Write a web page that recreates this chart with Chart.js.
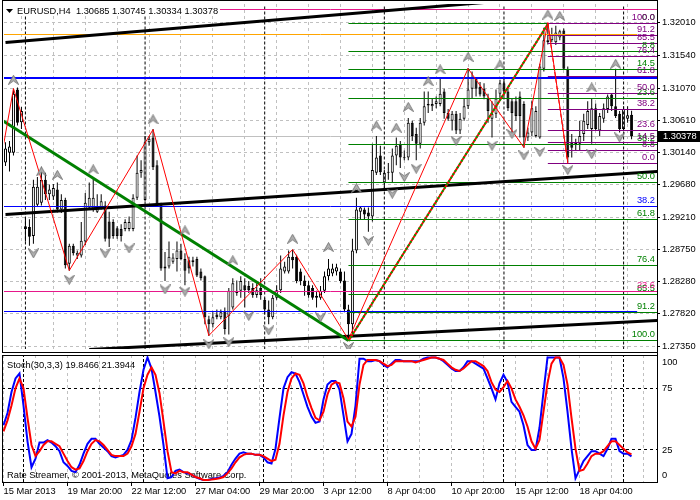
<!DOCTYPE html>
<html>
<head>
<meta charset="utf-8">
<script src="https://cdn.jsdelivr.net/npm/chart.js@4.4.1/dist/chart.umd.min.js"></script>
<style>
  html, body { margin: 0; padding: 0; background: #fff; }
  #wrap { position: relative; width: 700px; height: 500px; overflow: hidden; background: #fff; }
  #mainChart { position: absolute; left: 0; top: 0; }
  #stochChart { position: absolute; left: 0; top: 353px; }
</style>
</head>
<body>
<div id="wrap">
  <canvas id="mainChart" width="700" height="353"></canvas>
  <canvas id="stochChart" width="700" height="147"></canvas>
</div>
<script>
// EURUSD H4, 15 Mar 04:00 .. 19 Apr 08:00 (bar 0 .. 157)
const open = [
  1.3000, 1.3014, 1.3014, 1.3105, 1.3058, 1.2908, 1.2907, 1.2894, 1.2939, 1.2942,
  1.2975, 1.2954, 1.2951, 1.2961, 1.2932, 1.2946, 1.2854, 1.2880, 1.2866, 1.2866,
  1.2886, 1.2935, 1.2932, 1.2929, 1.2935, 1.2938, 1.2915, 1.2914, 1.2905, 1.2904,
  1.2904, 1.2904, 1.2904, 1.2949, 1.2985, 1.2946, 1.3029, 1.3036, 1.2996, 1.2939,
  1.2847, 1.2850, 1.2857, 1.2861, 1.2873, 1.2861, 1.2859, 1.2856, 1.2861, 1.2843,
  1.2836, 1.2774, 1.2767, 1.2781, 1.2777, 1.2786, 1.2779, 1.2791, 1.2812, 1.2815,
  1.2823, 1.2822, 1.2819, 1.2809, 1.2819, 1.2802, 1.2788, 1.2777, 1.2805, 1.2816,
  1.2843, 1.2843, 1.2864, 1.2864, 1.2843, 1.2830, 1.2823, 1.2819, 1.2808, 1.2805,
  1.2815, 1.2836, 1.2840, 1.2843, 1.2843, 1.2830, 1.2788, 1.2767, 1.2873, 1.2929,
  1.2932, 1.2928, 1.2922, 1.2985, 1.3010, 1.2971, 1.2985, 1.2985, 1.3010, 1.3026,
  1.3007, 1.3007, 1.3057, 1.3041, 1.3027, 1.3057, 1.3082, 1.3081, 1.3084, 1.3084,
  1.3102, 1.3071, 1.3060, 1.3070, 1.3046, 1.3063, 1.3081, 1.3106, 1.3121, 1.3109,
  1.3106, 1.3092, 1.3063, 1.3070, 1.3099, 1.3114, 1.3102, 1.3088, 1.3088, 1.3095,
  1.3084, 1.3036, 1.3043, 1.3038, 1.3036, 1.3135, 1.3173, 1.3176, 1.3173, 1.3180,
  1.3190, 1.3135, 1.3029, 1.3029, 1.3027, 1.3041, 1.3054, 1.3048, 1.3078, 1.3046,
  1.3063, 1.3077, 1.3098, 1.3081, 1.3070, 1.3048, 1.3063, 1.30685
];
const high = [
  1.3029, 1.3031, 1.3106, 1.3108, 1.3080, 1.2921, 1.2918, 1.2975, 1.2979, 1.2993,
  1.2985, 1.2968, 1.2969, 1.2971, 1.2954, 1.2949, 1.2883, 1.2883, 1.2873, 1.2914,
  1.2956, 1.2971, 1.2979, 1.2954, 1.2954, 1.2944, 1.2929, 1.2918, 1.2908, 1.2911,
  1.2918, 1.2922, 1.2954, 1.3010, 1.3003, 1.3038, 1.3038, 1.3048, 1.3003, 1.2942,
  1.2871, 1.2886, 1.2869, 1.2886, 1.2883, 1.2869, 1.2864, 1.2864, 1.2864, 1.2847,
  1.2837, 1.2779, 1.2784, 1.2788, 1.2788, 1.2791, 1.2819, 1.2833, 1.2830, 1.2836,
  1.2833, 1.2829, 1.2826, 1.2826, 1.2833, 1.2805, 1.2801, 1.2809, 1.2823, 1.2866,
  1.2857, 1.2873, 1.2874, 1.2867, 1.2847, 1.2837, 1.2829, 1.2823, 1.2815, 1.2822,
  1.2843, 1.2861, 1.2854, 1.2854, 1.2847, 1.2843, 1.2795, 1.2890, 1.2949, 1.2937,
  1.2935, 1.2935, 1.3027, 1.3038, 1.3024, 1.2989, 1.2999, 1.3020, 1.3036, 1.3031,
  1.3017, 1.3064, 1.3060, 1.3050, 1.3064, 1.3102, 1.3102, 1.3092, 1.3095, 1.3121,
  1.3106, 1.3077, 1.3074, 1.3074, 1.3071, 1.3092, 1.3136, 1.3131, 1.3123, 1.3116,
  1.3114, 1.3099, 1.3088, 1.3105, 1.3119, 1.3123, 1.3106, 1.3092, 1.3095, 1.3102,
  1.3088, 1.3050, 1.3088, 1.3081, 1.3142, 1.3194, 1.3201, 1.3194, 1.3197, 1.3191,
  1.3193, 1.3138, 1.3041, 1.3034, 1.3060, 1.3070, 1.3088, 1.3092, 1.3085, 1.3071,
  1.3085, 1.3098, 1.3099, 1.3135, 1.3074, 1.3081, 1.3081, 1.30745
];
const low = [
  1.2995, 1.2987, 1.3010, 1.3053, 1.3048, 1.2886, 1.2880, 1.2883, 1.2937, 1.2938,
  1.2946, 1.2946, 1.2946, 1.2928, 1.2927, 1.2847, 1.2844, 1.2866, 1.2861, 1.2863,
  1.2881, 1.2932, 1.2929, 1.2927, 1.2932, 1.2886, 1.2878, 1.2890, 1.2890, 1.2886,
  1.2901, 1.2901, 1.2901, 1.2946, 1.2978, 1.2944, 1.3024, 1.2989, 1.2937, 1.2844,
  1.2829, 1.2847, 1.2854, 1.2843, 1.2859, 1.2823, 1.2840, 1.2850, 1.2835, 1.2830,
  1.2767, 1.2750, 1.2762, 1.2774, 1.2774, 1.2752, 1.2752, 1.2788, 1.2808, 1.2805,
  1.2791, 1.2812, 1.2805, 1.2805, 1.2802, 1.2781, 1.2767, 1.2774, 1.2802, 1.2812,
  1.2840, 1.2840, 1.2847, 1.2826, 1.2823, 1.2808, 1.2805, 1.2802, 1.2791, 1.2802,
  1.2812, 1.2830, 1.2836, 1.2837, 1.2826, 1.2784, 1.2745, 1.2751, 1.2869, 1.2918,
  1.2918, 1.2900, 1.2915, 1.2982, 1.2982, 1.2963, 1.2975, 1.2971, 1.2996, 1.2992,
  1.3003, 1.3003, 1.3031, 1.3003, 1.3020, 1.3053, 1.3071, 1.3074, 1.3078, 1.3081,
  1.3063, 1.3060, 1.3046, 1.3041, 1.3041, 1.3060, 1.3077, 1.3092, 1.3095, 1.3095,
  1.3091, 1.3057, 1.3036, 1.3064, 1.3092, 1.3095, 1.3074, 1.3043, 1.3060, 1.3036,
  1.3021, 1.3031, 1.3038, 1.3036, 1.3034, 1.3131, 1.3170, 1.3173, 1.3169, 1.3176,
  1.3133, 1.3000, 1.3007, 1.3017, 1.3017, 1.3031, 1.3048, 1.3027, 1.3046, 1.3038,
  1.3057, 1.3071, 1.3074, 1.3064, 1.3043, 1.3046, 1.3057, 1.30334
];
const close = [
  1.3020, 1.3023, 1.3099, 1.3057, 1.3074, 1.2904, 1.2893, 1.2965, 1.2965, 1.2975,
  1.2954, 1.2961, 1.2963, 1.2932, 1.2946, 1.2852, 1.2880, 1.2869, 1.2870, 1.2887,
  1.2942, 1.2949, 1.2949, 1.2937, 1.2944, 1.2890, 1.2890, 1.2894, 1.2894, 1.2894,
  1.2914, 1.2914, 1.2949, 1.2985, 1.2989, 1.3029, 1.3034, 1.2993, 1.2939, 1.2847,
  1.2850, 1.2864, 1.2863, 1.2873, 1.2861, 1.2844, 1.2847, 1.2859, 1.2837, 1.2833,
  1.2777, 1.2767, 1.2777, 1.2777, 1.2784, 1.2760, 1.2815, 1.2826, 1.2815, 1.2829,
  1.2816, 1.2816, 1.2809, 1.2816, 1.2809, 1.2788, 1.2777, 1.2805, 1.2816, 1.2847,
  1.2850, 1.2864, 1.2859, 1.2829, 1.2829, 1.2822, 1.2809, 1.2805, 1.2805, 1.2815,
  1.2836, 1.2847, 1.2847, 1.2849, 1.2829, 1.2788, 1.2767, 1.2873, 1.2932, 1.2935,
  1.2925, 1.2922, 1.2989, 1.3007, 1.2986, 1.2985, 1.2986, 1.3010, 1.3024, 1.3007,
  1.3006, 1.3057, 1.3038, 1.3027, 1.3057, 1.3081, 1.3084, 1.3084, 1.3088, 1.3099,
  1.3071, 1.3063, 1.3070, 1.3046, 1.3063, 1.3081, 1.3105, 1.3122, 1.3106, 1.3098,
  1.3095, 1.3074, 1.3070, 1.3092, 1.3114, 1.3102, 1.3078, 1.3071, 1.3067, 1.3067,
  1.3036, 1.3043, 1.3078, 1.3074, 1.3138, 1.3176, 1.3176, 1.3184, 1.3187, 1.3189,
  1.3135, 1.3007, 1.3021, 1.3026, 1.3038, 1.3060, 1.3074, 1.3078, 1.3048, 1.3067,
  1.3078, 1.3095, 1.3081, 1.3067, 1.3048, 1.3077, 1.3068, 1.30378
];

// Stochastic(30,3,3): main (%K) and signal (%D)
const stochK = [
  45, 55, 72, 83, 87, 61, 32, 11, 18, 31,
  31, 33, 31, 28, 24, 15, 12, 8, 7, 13,
  22, 30, 34, 34, 30, 27, 24, 20, 19, 20,
  21, 25, 33, 51, 72, 90, 100, 91, 72, 52,
  29, 2, 3, 8, 9, 7, 6, 5, 3, 1.5,
  0.7, 0.7, 1.5, 2, 2.6, 4, 7, 13, 18, 22,
  23, 22, 22, 21, 21, 19, 15, 14, 26, 51,
  75, 84, 88, 87, 80, 70, 60, 52, 47, 48,
  66, 78, 81, 81, 74, 53, 32, 38, 61, 99,
  99, 97, 97, 98, 97, 94, 92, 95, 98, 98,
  97, 97, 97, 97, 97, 99, 100, 100, 100, 99,
  97, 94, 91, 89, 89, 92, 97, 97, 95, 93,
  91, 83, 75, 66, 79, 86, 80, 64, 60, 56,
  45, 29, 25, 25, 43, 72, 100, 100, 100, 100,
  83, 56, 26, 2, 9, 16, 20, 24, 24, 22,
  20, 26, 34, 34, 24, 22, 22, 19.8466
];
const stochD = [
  40, 49, 61, 75, 83, 75, 51, 29, 20, 24,
  29, 32, 32, 30, 28, 22, 16, 11, 9, 10,
  16, 24, 30, 33, 32, 29, 25, 21, 20, 20,
  20, 22, 28, 38, 56, 75, 86, 92, 86, 71,
  48, 24, 7, 6, 8, 7, 7, 5, 3, 2,
  0.7, 0.7, 1, 1.5, 2, 3, 6, 10, 15, 19,
  21, 22, 22, 21, 21, 20, 18, 16, 17, 30,
  53, 72, 83, 87, 86, 79, 68, 59, 51, 49,
  56, 70, 78, 80, 79, 67, 48, 44, 52, 78,
  94, 98, 98, 98, 97, 95, 93, 94, 97, 97,
  97, 97, 97, 96, 97, 98, 99, 100, 100, 99,
  98, 95, 92, 90, 89, 91, 94, 97, 97, 95,
  93, 89, 80, 74, 72, 76, 81, 75, 66, 60,
  53, 44, 32, 26, 33, 56, 79, 95, 100, 100,
  94, 78, 51, 26, 8, 9, 14, 20, 22, 22,
  24, 28, 32, 32, 29, 26, 23, 21.3944
];

const priceTicks = [1.2735, 1.2782, 1.2828, 1.2875, 1.2921, 1.2968, 1.3014, 1.3061, 1.3107, 1.3154, 1.3201];
const timeLabels = ['15 Mar 2013', '19 Mar 20:00', '22 Mar 12:00', '27 Mar 04:00', '29 Mar 20:00',
                    '3 Apr 12:00', '8 Apr 04:00', '10 Apr 20:00', '15 Apr 12:00', '18 Apr 04:00'];
const labelBars = [0, 16, 32, 48, 64, 80, 96, 112, 128, 144];
const gridBars = [0, 8, 16, 24, 32, 40, 48, 56, 64, 72, 80, 88, 96, 104, 112, 120, 128, 136, 144, 152, 160];
const weekStarts = [5, 35, 65, 95, 125, 155];
const stochLevels = [0, 25, 75, 100];

// drawn objects
const zigzagBars = [-1, 2, 16, 37, 51, 72, 86, 116, 130, 136, 141];
const zigzagPrices = [1.3008, 1.3106, 1.2844, 1.3048, 1.2750, 1.2874, 1.2745, 1.3136, 1.3021, 1.3201, 1.3000];
const upperChannel = [[0, 1.3173], [120, 1.3231]];
const middleChannel = [[0, 1.2925], [163.4, 1.2987]];
const lowerChannel = [[21, 1.2730], [163.4, 1.2772]];
const greenTrend = [[-0.75, 1.3060], [86, 1.2744]];
const fiboLevels = [0, 8.8, 14.5, 23.6, 38.2, 50, 61.8, 76.4, 85.5, 91.2, 100];
const greenFiboBars = [86, 136];        // low bar, high bar
const greenFiboPrices = [1.2743, 1.3200];
const purpleFiboBars = [136, 141];      // high bar, low bar
const purpleFiboPrices = [1.3200, 1.2999];
const pinkLevels = [1.3220, 1.2814];
const orangeLevels = [1.3184];
const blueWideLevels = [1.3122];
const blueLevels = [1.2936];
const blueShortLevels = [1.2785];

const fractalUpBars = [2, 9, 13, 22, 37, 45, 57, 72, 81, 88, 93, 98, 101, 106, 109, 116, 124, 136, 139, 147, 153];
const fractalUpPrices = [1.3119, 1.2987, 1.2982, 1.2990, 1.3062, 1.2902, 1.2859, 1.2890, 1.2878, 1.2963, 1.3053,
                         1.3050, 1.3080, 1.3117, 1.3134, 1.3152, 1.3141, 1.3213, 1.3211, 1.3108, 1.3142];
const fractalDownBars = [7, 16, 25, 31, 40, 45, 51, 56, 61, 66, 79, 86, 91, 97, 100, 103, 113, 122, 127, 130, 134, 141, 147, 154];
const fractalDownPrices = [1.2869, 1.2831, 1.2869, 1.2876, 1.2817, 1.2814, 1.2738, 1.2741, 1.2779, 1.2758, 1.2777, 1.2734,
                           1.2887, 1.2955, 1.2979, 1.2991, 1.3031, 1.3024, 1.3041, 1.3010, 1.3015, 1.2989, 1.3012, 1.3036];

const titleText = 'EURUSD,H4  1.30685 1.30745 1.30334 1.30378';
const stochTitle = 'Stoch(30,3,3) 19.8466 21.3944';
const copyrightText = 'Rate Streamer, \u00a9 2001-2013, MetaQuotes Software Corp.';

// axis ranges
const X_MIN = -0.375, X_MAX = 163.375;
const P_MIN = 1.27312, P_MAX = 1.32282;
const S_MIN = -1, S_MAX = 102;

const FONT = '"Liberation Sans", Arial, sans-serif';
const FONT_SIZE = 9.3;
Chart.defaults.font.family = FONT;
Chart.defaults.font.size = FONT_SIZE;
Chart.defaults.color = '#000';

const GRID_GRAY = '#c0c0c0';
const GREEN = '#008000';
const PURPLE = '#800080';
const PINK = '#e6178a';
const BLUE = '#0000ff';
const lastClose = close[close.length - 1];

function makeArrow(up) {
  const c = document.createElement('canvas');
  c.width = 11; c.height = 10;
  const g = c.getContext('2d');
  g.beginPath();
  if (up) {
    g.moveTo(5.5, 0.5); g.lineTo(10.5, 9.5); g.lineTo(5.5, 6); g.lineTo(0.5, 9.5);
  } else {
    g.moveTo(5.5, 9.5); g.lineTo(10.5, 0.5); g.lineTo(5.5, 4); g.lineTo(0.5, 0.5);
  }
  g.closePath();
  g.fillStyle = '#b0b0b0';
  g.fill();
  g.strokeStyle = '#777';
  g.lineWidth = 1;
  g.stroke();
  return c;
}

function line(data, color, width, order, dash) {
  return {
    type: 'line', data: data, borderColor: color, borderWidth: width,
    borderDash: dash || [], pointRadius: 0, tension: 0, fill: false,
    spanGaps: false, order: order
  };
}

function hSegments(prices, fromBar, toBar) {
  const pts = [];
  prices.forEach(p => {
    pts.push({ x: fromBar, y: p }, { x: toBar, y: p }, { x: toBar, y: null });
  });
  return pts;
}

function pairSegments(lines) {
  const pts = [];
  lines.forEach(l => {
    pts.push({ x: l[0][0], y: l[0][1] }, { x: l[1][0], y: l[1][1] }, { x: l[1][0], y: null });
  });
  return pts;
}

function fiboPrice(range, lvl, reversed) {
  // reversed: 0% at the high, 100% at the low
  const lo = Math.min(range[0], range[1]), hi = Math.max(range[0], range[1]);
  return reversed ? hi - (hi - lo) * lvl / 100 : lo + (hi - lo) * lvl / 100;
}

// keep thin horizontal lines on whole pixels, like the terminal does
const crispLines = {
  id: 'crispLines',
  beforeDatasetsDraw(chart) {
    chart.data.datasets.forEach((ds, i) => {
      if (ds.type !== 'line' || ds.showLine === false) return;
      const meta = chart.getDatasetMeta(i);
      const odd = (ds.borderWidth || 1) % 2 === 1;
      meta.data.forEach(pt => {
        if (!isFinite(pt.y)) return;
        pt.y = odd ? Math.floor(pt.y) + 0.5 : Math.round(pt.y);
      });
    });
  }
};

function initCharts() {
  const upArrow = makeArrow(true);
  const downArrow = makeArrow(false);

  const greenLevelPrices = fiboLevels.map(l => fiboPrice(greenFiboPrices, l, true));
  const purpleLevelPrices = fiboLevels.map(l => fiboPrice(purpleFiboPrices, l, false));

  const weekLinesMain = [];
  weekStarts.forEach(b => weekLinesMain.push({ x: b, y: P_MIN }, { x: b, y: P_MAX }, { x: b, y: null }));
  const weekLinesStoch = [];
  weekStarts.forEach(b => weekLinesStoch.push({ x: b, y: S_MIN }, { x: b, y: S_MAX }, { x: b, y: null }));

  const mainOverlay = {
    id: 'mainOverlay',
    afterDatasetsDraw(chart) {
      const { ctx } = chart;
      const y = chart.scales.y;
      ctx.save();
      ctx.font = FONT_SIZE + 'px ' + FONT;
      ctx.textAlign = 'right';
      ctx.textBaseline = 'alphabetic';
      // level captions
      ctx.fillStyle = GREEN;
      fiboLevels.forEach((l, i) => ctx.fillText(l.toFixed(1), 655, Math.floor(y.getPixelForValue(greenLevelPrices[i])) - 3));
      ctx.fillStyle = BLUE;
      ctx.fillText('38.2', 655, Math.floor(y.getPixelForValue(blueLevels[0])) - 3);
      ctx.fillStyle = PINK;
      ctx.fillText('23.6', 655, Math.floor(y.getPixelForValue(pinkLevels[1])) - 3);
      ctx.fillStyle = PURPLE;
      fiboLevels.forEach((l, i) => ctx.fillText(l.toFixed(1), 655, Math.floor(y.getPixelForValue(purpleLevelPrices[i])) - 3));
      ctx.restore();
    },
    afterDraw(chart) {
      const { ctx } = chart;
      const y = chart.scales.y;
      ctx.save();
      // frame
      ctx.strokeStyle = '#000';
      ctx.lineWidth = 1;
      ctx.beginPath();
      ctx.moveTo(2.5, 0); ctx.lineTo(2.5, 353);
      ctx.moveTo(657.5, 0); ctx.lineTo(657.5, 353);
      ctx.moveTo(2, 0.5); ctx.lineTo(658, 0.5);
      ctx.moveTo(2, 352.5); ctx.lineTo(658, 352.5);
      ctx.stroke();
      // title
      ctx.fillStyle = '#fff';
      ctx.fillRect(4, 3, 216, 13);
      ctx.fillStyle = '#000';
      ctx.beginPath();
      ctx.moveTo(6, 9); ctx.lineTo(13, 9); ctx.lineTo(9.5, 13); ctx.closePath();
      ctx.fill();
      ctx.font = FONT_SIZE + 'px ' + FONT;
      ctx.textAlign = 'left';
      ctx.textBaseline = 'alphabetic';
      ctx.fillText(titleText, 17, 14);
      // current price box
      const py = Math.round(y.getPixelForValue(lastClose));
      ctx.fillStyle = '#000';
      ctx.fillRect(658, py - 5, 42, 11);
      ctx.fillStyle = '#fff';
      ctx.textBaseline = 'middle';
      ctx.fillText(lastClose.toFixed(5), 663, py + 0.5);
      ctx.restore();
    }
  };

  const mainCtx = document.getElementById('mainChart').getContext('2d');
  new Chart(mainCtx, {
    type: 'bar',
    data: {
      datasets: [
        Object.assign(line(fractalUpBars.map((b, i) => ({ x: b, y: fractalUpPrices[i] })), '#808080', 0, 1),
          { showLine: false, pointStyle: upArrow, pointRadius: 4 }),
        Object.assign(line(fractalDownBars.map((b, i) => ({ x: b, y: fractalDownPrices[i] })), '#808080', 0, 1),
          { showLine: false, pointStyle: downArrow, pointRadius: 4 }),
        line(zigzagBars.map((b, i) => ({ x: b, y: zigzagPrices[i] })), '#ff0000', 1, 2),
        line([{ x: greenFiboBars[0], y: greenFiboPrices[0] }, { x: greenFiboBars[1], y: greenFiboPrices[1] }], '#00a000', 2, 3, [2, 2]),
        line([{ x: greenFiboBars[0], y: greenFiboPrices[0] }, { x: greenFiboBars[1], y: greenFiboPrices[1] }], '#ff0000', 2, 4),
        line([{ x: purpleFiboBars[0], y: purpleFiboPrices[0] }, { x: purpleFiboBars[1], y: purpleFiboPrices[1] }], '#ff0000', 1, 4, [4, 3]),
        line(pairSegments([greenTrend]), GREEN, 3, 5),
        line(pairSegments([upperChannel, middleChannel, lowerChannel]), '#000', 3, 5),
        line(hSegments(purpleLevelPrices, purpleFiboBars[0], X_MAX), PURPLE, 1, 6),
        line(hSegments(greenLevelPrices, greenFiboBars[0], X_MAX), GREEN, 1, 7),
        line(hSegments(blueWideLevels, X_MIN, X_MAX), BLUE, 2, 8),
        line(hSegments(blueLevels, X_MIN, X_MAX).concat(hSegments(blueShortLevels, X_MIN, 158.4)), BLUE, 1, 8),
        line(hSegments(orangeLevels, X_MIN, 158.4), '#ffa500', 1, 8),
        line(hSegments(pinkLevels, X_MIN, X_MAX), PINK, 1, 8),
        line(weekLinesMain, '#000', 1, 9, [3, 2]),
        {
          type: 'bar', order: 20,
          data: open.map((o, i) => ({ x: i, y: [o, close[i]] })),
          backgroundColor: open.map((o, i) => close[i] >= o ? '#ffffff' : '#000000'),
          borderColor: '#000', borderWidth: 1, borderSkipped: false,
          barThickness: 3, grouped: false, minBarLength: 1, inflateAmount: 0
        },
        {
          type: 'bar', order: 21,
          data: high.map((h, i) => ({ x: i, y: [low[i], h] })),
          backgroundColor: '#000', borderWidth: 0,
          barThickness: 1, grouped: false, inflateAmount: 0
        },
        line([{ x: X_MIN, y: lastClose }, { x: X_MAX, y: lastClose }], GRID_GRAY, 1, 25)
      ]
    },
    options: {
      responsive: false,
      animation: false,
      events: [],
      layout: { padding: { left: 2, top: 1, right: 0, bottom: 1 } },
      plugins: { legend: { display: false }, tooltip: { enabled: false } },
      scales: {
        x: {
          type: 'linear', min: X_MIN, max: X_MAX, offset: false, bounds: 'data',
          afterBuildTicks: s => { s.ticks = gridBars.map(v => ({ value: v })); },
          afterFit: s => { s.height = 0; s.paddingLeft = 0; s.paddingRight = 0; },
          ticks: { display: false },
          grid: { color: GRID_GRAY, drawTicks: false },
          border: { display: false, dash: [3, 3] }
        },
        y: {
          type: 'linear', position: 'right', min: P_MIN, max: P_MAX, bounds: 'data',
          afterBuildTicks: s => { s.ticks = priceTicks.map(v => ({ value: v })); },
          afterFit: s => { s.width = 43; s.paddingTop = 0; s.paddingBottom = 0; },
          ticks: { callback: v => v.toFixed(5), padding: 2, color: '#000' },
          grid: { color: GRID_GRAY, tickColor: '#000', tickLength: 3 },
          border: { display: false, dash: [3, 3] }
        }
      }
    },
    plugins: [crispLines, mainOverlay]
  });

  const stochOverlay = {
    id: 'stochOverlay',
    beforeDatasetsDraw(chart) {
      const { ctx } = chart;
      ctx.save();
      ctx.font = FONT_SIZE + 'px ' + FONT;
      ctx.fillStyle = '#000';
      ctx.textAlign = 'left';
      ctx.textBaseline = 'alphabetic';
      ctx.fillText(stochTitle, 7, 15);
      ctx.fillText(copyrightText, 7, 125);
      ctx.restore();
    },
    afterDraw(chart) {
      const { ctx } = chart;
      const y = chart.scales.y;
      ctx.save();
      ctx.strokeStyle = '#000';
      ctx.lineWidth = 1;
      ctx.beginPath();
      ctx.moveTo(2.5, 2); ctx.lineTo(2.5, 130);
      ctx.moveTo(657.5, 0); ctx.lineTo(657.5, 130);
      ctx.moveTo(2, 2.5); ctx.lineTo(658, 2.5);
      ctx.moveTo(2, 129.5); ctx.lineTo(658, 129.5);
      ctx.stroke();
      // level captions, the outer ones kept inside the panel
      ctx.font = FONT_SIZE + 'px ' + FONT;
      ctx.fillStyle = '#000';
      ctx.textAlign = 'left';
      ctx.textBaseline = 'middle';
      stochLevels.forEach(v => {
        const shift = v === 100 ? 5 : (v === 0 ? -5 : 0);
        ctx.fillText(String(v), 662, y.getPixelForValue(v) + shift);
      });
      ctx.restore();
    }
  };

  const stochCtx = document.getElementById('stochChart').getContext('2d');
  new Chart(stochCtx, {
    type: 'line',
    data: {
      datasets: [
        line(stochD.map((v, i) => ({ x: i, y: v })), '#ff0000', 2, 1),
        line(stochK.map((v, i) => ({ x: i, y: v })), BLUE, 2, 2),
        line(weekLinesStoch, '#000', 1, 3, [3, 2])
      ]
    },
    options: {
      responsive: false,
      animation: false,
      events: [],
      layout: { padding: { left: 2, top: 2, right: 0, bottom: 0 } },
      plugins: { legend: { display: false }, tooltip: { enabled: false } },
      scales: {
        x: {
          type: 'linear', min: X_MIN, max: X_MAX, offset: false, bounds: 'data',
          afterBuildTicks: s => { s.ticks = gridBars.map(v => ({ value: v })); },
          afterFit: s => { s.height = 18; s.paddingLeft = 0; s.paddingRight = 0; },
          ticks: {
            autoSkip: false, maxRotation: 0, align: 'start', padding: 0, color: '#000',
            callback: v => { const k = labelBars.indexOf(v); return k >= 0 ? timeLabels[k] : ''; }
          },
          grid: {
            color: GRID_GRAY, tickLength: 4,
            tickColor: c => (c.tick && labelBars.indexOf(c.tick.value) >= 0) ? '#000' : 'rgba(0,0,0,0)'
          },
          border: { display: false, dash: [3, 3] }
        },
        y: {
          type: 'linear', position: 'right', min: S_MIN, max: S_MAX, bounds: 'data',
          afterBuildTicks: s => { s.ticks = stochLevels.map(v => ({ value: v })); },
          afterFit: s => { s.width = 43; s.paddingTop = 0; s.paddingBottom = 0; },
          ticks: { display: false },
          grid: {
            drawTicks: false,
            color: c => (c.tick && (c.tick.value === 25 || c.tick.value === 75)) ? '#000' : 'rgba(0,0,0,0)'
          },
          border: { display: false, dash: [3, 3] }
        }
      }
    },
    plugins: [stochOverlay]
  });
}

document.addEventListener('DOMContentLoaded', initCharts);
</script>
</body>
</html>
